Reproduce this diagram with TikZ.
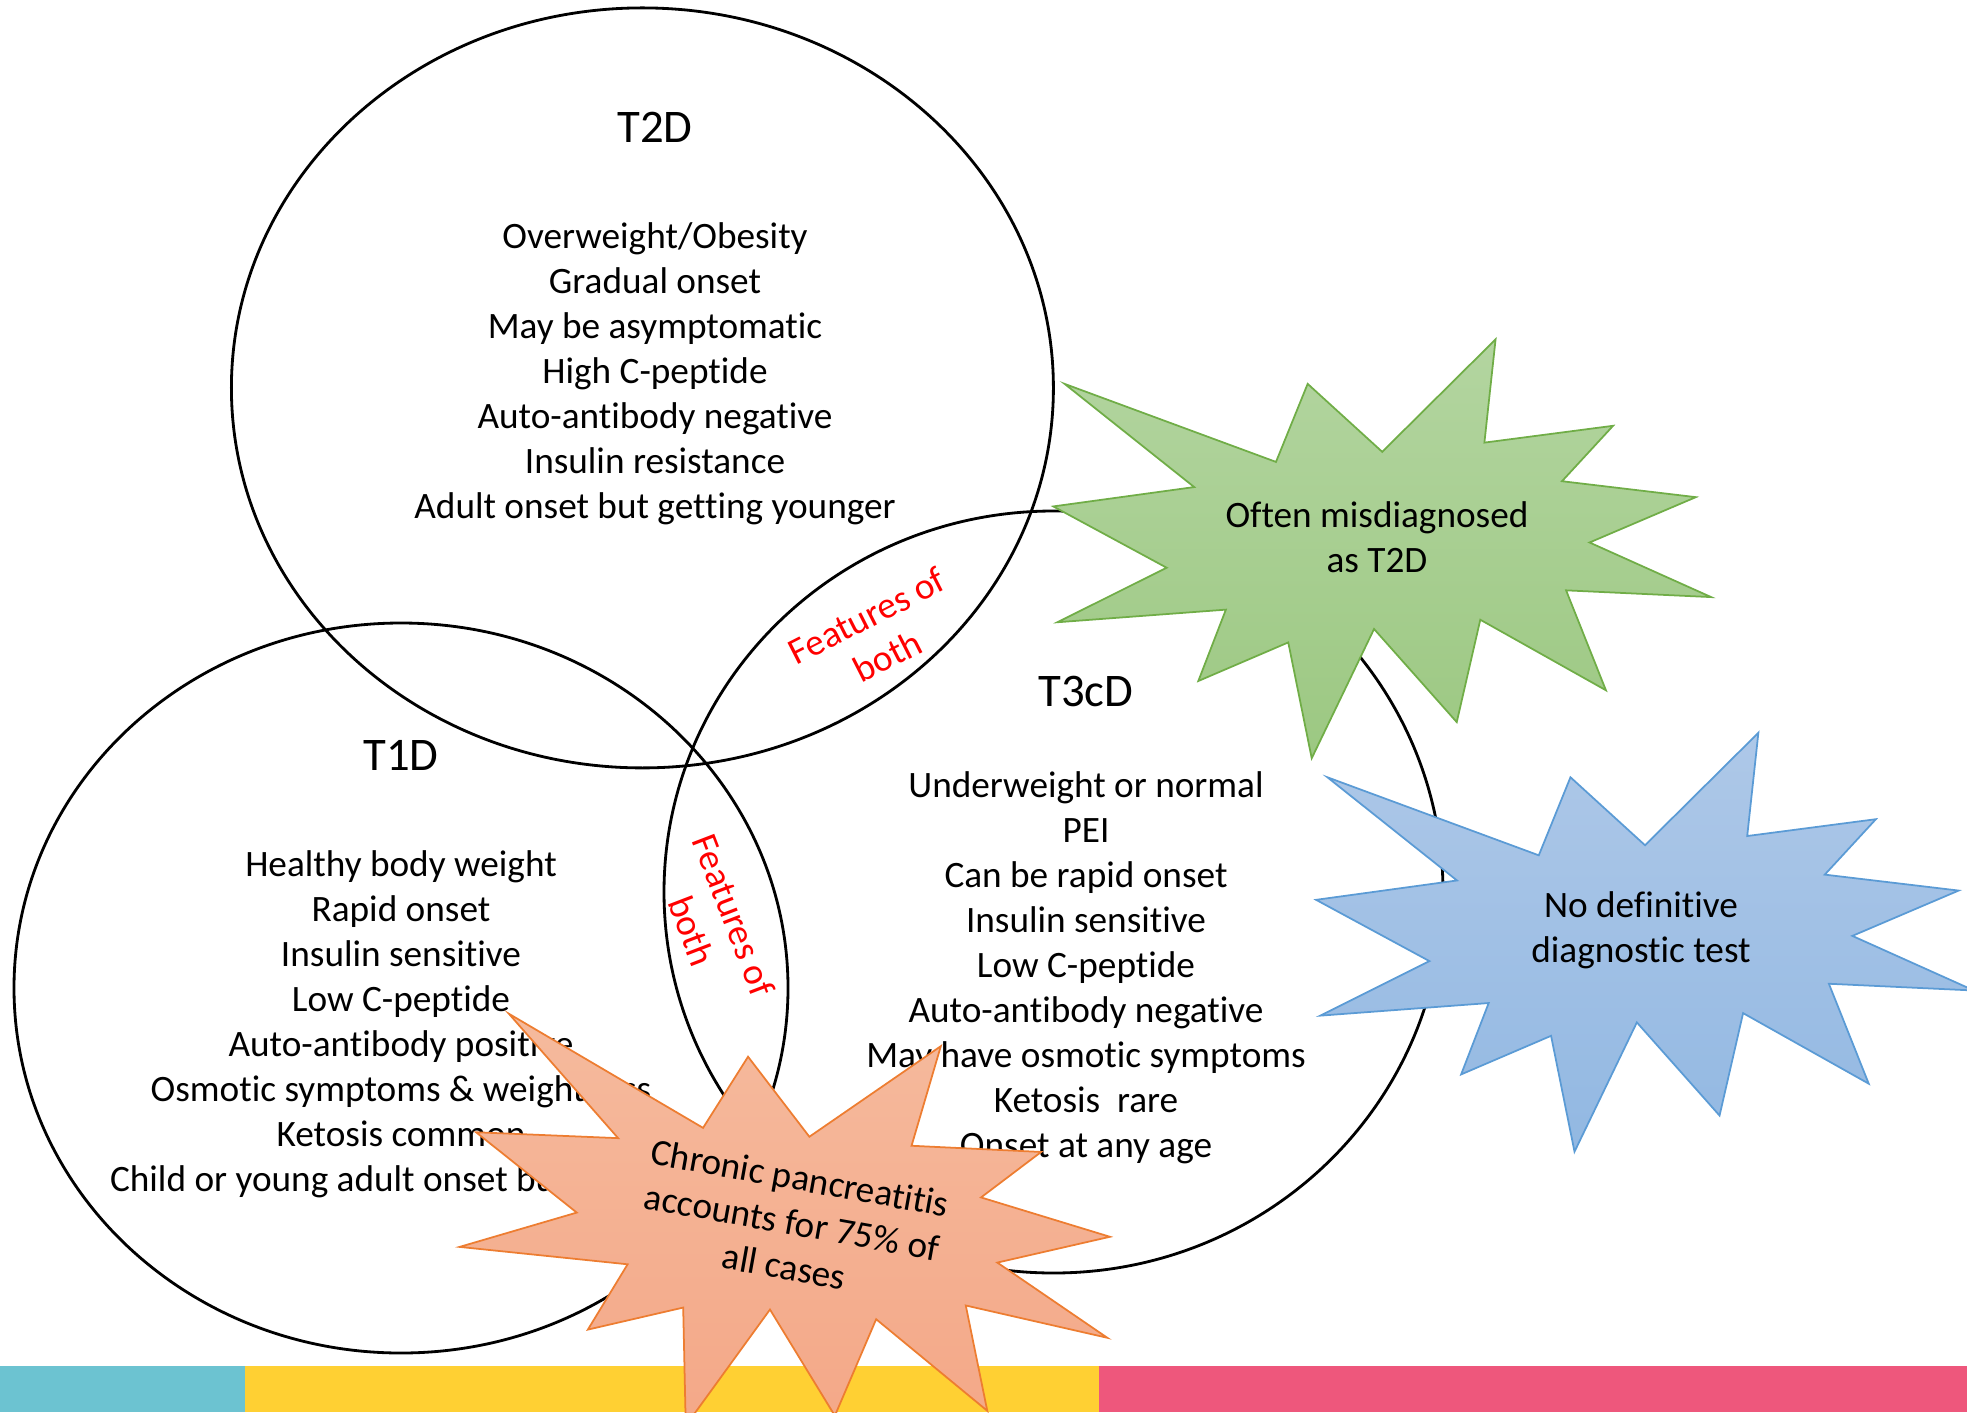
\documentclass[tikz,border=0pt]{standalone}
\usepackage{fontspec}
\setmainfont{Carlito}[Ligatures=NoCommon]

\definecolor{greentop}{RGB}{179,213,160}
\definecolor{greenbot}{RGB}{156,200,130}
\definecolor{greenedge}{RGB}{112,173,71}
\definecolor{bluetop}{RGB}{174,200,232}
\definecolor{bluebot}{RGB}{146,184,226}
\definecolor{blueedge}{RGB}{91,155,213}
\definecolor{orangetop}{RGB}{245,186,157}
\definecolor{orangebot}{RGB}{244,168,136}
\definecolor{orangeedge}{RGB}{237,125,49}
\definecolor{barcyan}{RGB}{108,195,209}
\definecolor{baryellow}{RGB}{255,208,51}
\definecolor{barpink}{RGB}{238,87,124}

\begin{document}
\begin{tikzpicture}[
  % Set outline style
  setline/.style={draw=black, line width=0.8pt},
  % Text styles
  heading/.style={font=\fontsize{13.3}{16}\selectfont, inner sep=0pt},
  traits/.style={font=\fontsize{10.6}{12.8}\selectfont, align=center, inner sep=0pt},
  overlap/.style={font=\fontsize{10.6}{12.8}\selectfont, align=center,
    text=red, inner sep=0pt},
  bursttext/.style={font=\fontsize{10.6}{12.8}\selectfont, align=center, inner sep=0pt},
  % Starburst styles
  greenburst/.style={draw=greenedge, line width=0.5pt, top color=greentop,
    bottom color=greenbot},
  blueburst/.style={draw=blueedge, line width=0.5pt, top color=bluetop,
    bottom color=bluebot},
  orangeburst/.style={draw=orangeedge, line width=0.5pt, top color=orangetop,
    bottom color=orangebot},
]

% Burst outline (unit grid, centred on the origin)
\def\burstpath{(0,50) -- (37.22,108) -- (33.55,54.75) -- (75.8,63.43)
  -- (59.02,34.85) -- (102.97,26.63) -- (68.07,3.25) -- (108,-24.9)
  -- (60.37,-21.42) -- (73.45,-72.95) -- (32.2,-36.57) -- (24.47,-89.37)
  -- (-2.68,-41.35) -- (-23.15,-108) -- (-30.85,-48.27) -- (-60.38,-68.17)
  -- (-51.33,-31.37) -- (-106.65,-37.87) -- (-70.78,-9.75) -- (-108,21.85)
  -- (-61.73,31.83) -- (-104.3,85.05) -- (-34.88,44.8) -- (-24.48,85.05) -- cycle}
% Burst size
\def\bx{0.03046}
\def\by{0.0194}

\useasboundingbox (0,0) rectangle (19.67,-14.12);
\clip (0,0) rectangle (19.67,-14.12);

% Bottom colour bar
\fill[barcyan] (0,-13.66) rectangle (2.45,-14.12);
\fill[baryellow] (2.45,-13.66) rectangle (10.99,-14.12);
\fill[barpink] (10.99,-13.66) rectangle (19.67,-14.12);

% --- Sets ---
\draw[setline] (6.424,-3.879) ellipse [x radius=4.11, y radius=3.80];
\draw[setline] (4.01,-9.88) ellipse [x radius=3.87, y radius=3.65];
\draw[setline] (10.535,-8.92) ellipse [x radius=3.895, y radius=3.81];

% --- T2D ---
\node[heading] (t2d) at (6.55,-1.27) {T2D};
\node[traits] (t2dlist) at (6.55,-3.735)
  {Overweight/Obesity\\Gradual onset\\May be asymptomatic\\High C-peptide\\
   Auto-antibody negative\\Insulin resistance\\Adult onset but getting younger};

% --- T1D ---
\node[heading] (t1d) at (4.01,-7.55) {T1D};
\node[traits] (t1dlist) at (4.01,-10.245)
  {Healthy body weight\\Rapid onset\\Insulin sensitive\\Low C-peptide\\
   Auto-antibody positive\\Osmotic symptoms \& weight loss\\Ketosis common\\
   Child or young adult onset but any age};

% --- T3cD ---
\node[heading] (t3cd) at (10.86,-6.91) {T3cD};
\node[traits] (t3cdlist) at (10.86,-9.68)
  {Underweight or normal\\PEI\\Can be rapid onset\\Insulin sensitive\\
   Low C-peptide\\Auto-antibody negative\\May have osmotic symptoms\\
   Ketosis\ \ rare\\Onset at any age};

% Overlap labels
\node[overlap, rotate=27] (both23) at (8.77,-6.36) {Features of\\both};
\node[overlap, rotate=-69] (both13) at (7.13,-9.23) {Features of\\both};

% --- Bursts ---
\draw[greenburst, shift={(13.822,-5.488)}, xscale=\bx, yscale=\by] \burstpath;
\node[bursttext] (misdiag) at (13.77,-5.37) {Often misdiagnosed\\as T2D};

\draw[blueburst, shift={(16.45,-9.422)}, xscale=\bx, yscale=\by] \burstpath;
\node[bursttext] (notest) at (16.41,-9.30) {No definitive\\diagnostic test};

\draw[orangeburst, shift={(7.922,-12.321)}, rotate=-10.2, xscale=\bx, yscale=\by] \burstpath;
\node[bursttext, rotate=-10.2] (chronic) at (7.92,-12.22)
  {Chronic pancreatitis\\accounts for 75\% of\\all cases};

\end{tikzpicture}
\end{document}
